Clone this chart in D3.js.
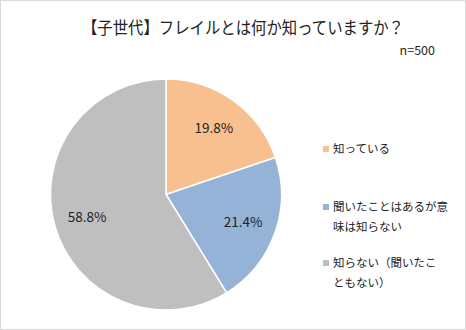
<!DOCTYPE html>
<html><head><meta charset="utf-8">
<script src="https://cdn.jsdelivr.net/npm/d3@7"></script>
<style>body{margin:0;background:#fff}svg{display:block}text{font-family:"Noto Sans CJK JP","Noto Sans",sans-serif}</style>
</head><body>
<script>
const categories = ["知っている", "聞いたことはあるが意味は知らない", "知らない（聞いたこともない）"];
const values = [19.8, 21.4, 58.8];
const legendLines = [["知っている"], ["聞いたことはあるが意", "味は知らない"], ["知らない（聞いたこ", "ともない）"]];
const colors = ["#F9C08F", "#95B3D7", "#BFBFBF"];
const title = "【子世代】フレイルとは何か知っていますか？";
const note = "n=500";

const W = 466, H = 330;
const svg = d3.select("body").append("svg").attr("width", W).attr("height", H);
svg.append("rect").attr("x", 0.5).attr("y", 0.5).attr("width", W - 1).attr("height", H - 1)
  .attr("fill", "#fff").attr("stroke", "#D9D9D9");

svg.append("text").attr("x", 82).attr("y", 34)
  .attr("font-size", 17).attr("fill", "#222")
  .attr("textLength", 322).attr("lengthAdjust", "spacingAndGlyphs").text(title);
svg.append("text").attr("x", 435).attr("y", 55).attr("text-anchor", "end")
  .attr("font-size", 12.5).attr("fill", "#222").text(note);

const cx = 166, cy = 194.5, r = 115.5;
const pie = d3.pie().sort(null).value(d => d)(values);
const arc = d3.arc().innerRadius(0).outerRadius(r);
const g = svg.append("g").attr("transform", `translate(${cx},${cy})`);
g.selectAll("path").data(pie).join("path").attr("d", arc)
  .attr("fill", (d, i) => colors[i]).attr("stroke", "#fff").attr("stroke-width", 1.5);

const labelArc = d3.arc().innerRadius(r * 0.71).outerRadius(r * 0.71);
g.selectAll("text.lbl").data(pie).join("text").attr("class", "lbl")
  .attr("transform", d => `translate(${labelArc.centroid(d)})`)
  .attr("text-anchor", "middle").attr("dy", "0.35em")
  .attr("font-size", 13.5).attr("fill", "#222")
  .text(d => d.data.toFixed(1) + "%");

const legY = [149, 207, 263];
const lg = svg.append("g");
legendLines.forEach((lines, i) => {
  lg.append("rect").attr("x", 323).attr("y", legY[i] - 3).attr("width", 6).attr("height", 6).attr("fill", colors[i]);
  lines.forEach((t, j) => {
    lg.append("text").attr("x", 333).attr("y", legY[i] + j * 20).attr("dy", "0.35em")
      .attr("font-size", 11.5).attr("fill", "#222").text(t);
  });
});
</script>
</body></html>
